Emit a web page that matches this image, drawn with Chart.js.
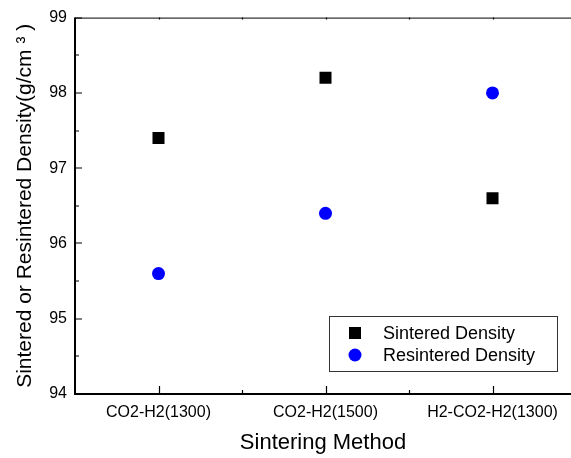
<!DOCTYPE html>
<html>
<head>
<meta charset="utf-8">
<script src="https://cdn.jsdelivr.net/npm/chart.js@4/dist/chart.umd.min.js"></script>
<style>
  html, body { margin: 0; padding: 0; background: #ffffff; overflow: hidden; }
</style>
</head>
<body>
<canvas id="densityChart" width="571" height="458"></canvas>
<script>
var categories = ['CO2-H2(1300)', 'CO2-H2(1500)', 'H2-CO2-H2(1300)'];
var sinteredDensity = [97.4, 98.2, 96.6];
var resinteredDensity = [95.6, 96.4, 98.0];
var yTicks = [94, 95, 96, 97, 98, 99];

var fontName = '"Liberation Sans", Arial, sans-serif';

function toPoints(values) {
    var pts = [];
    for (var i = 0; i < values.length; i++) {
        pts.push({ x: i + 1, y: values[i] });
    }
    return pts;
}

// frame with inward ticks, plus the boxed legend inside the plot
// (the right edge of the original frame falls just outside the picture)
var framePlugin = {
    id: 'frame',
    afterDraw: function(chart) {
        var ctx = chart.ctx;
        var area = chart.chartArea;
        var xs = chart.scales.x;
        var ys = chart.scales.y;
        ctx.save();
        ctx.strokeStyle = '#000000';

        ctx.lineWidth = 1;
        ctx.beginPath();
        ctx.moveTo(area.left, area.top + 0.5);
        ctx.lineTo(area.right, area.top + 0.5);
        ctx.stroke();

        ctx.lineWidth = 2;
        ctx.beginPath();
        ctx.moveTo(area.left, area.top);
        ctx.lineTo(area.left, area.bottom);
        ctx.lineTo(area.right, area.bottom);
        ctx.stroke();

        ctx.lineWidth = 1.2;
        ctx.beginPath();
        for (var v = 94; v <= 99; v += 0.5) {
            var py = Math.round(ys.getPixelForValue(v));
            var len = (v % 1 === 0) ? 7 : 4;
            ctx.moveTo(area.left, py);
            ctx.lineTo(area.left + len, py);
        }
        for (var c = 1; c <= xs.max; c += 0.5) {
            var px = Math.round(xs.getPixelForValue(c)) + 0.5;
            var l2 = (c % 1 === 0) ? 8 : 4;
            ctx.moveTo(px, area.bottom);
            ctx.lineTo(px, area.bottom - l2);
            ctx.moveTo(px, area.top);
            ctx.lineTo(px, area.top + 2);
        }
        ctx.stroke();

        // legend
        var boxR = area.right - 14;
        var boxB = area.bottom - 23;
        var boxL = boxR - 228;
        var boxT = boxB - 55;
        ctx.lineWidth = 1;
        ctx.strokeStyle = '#333333';
        ctx.strokeRect(boxL + 0.5, boxT + 0.5, 228, 55);

        var sets = chart.data.datasets;
        ctx.font = '18px ' + fontName;
        ctx.textBaseline = 'middle';
        ctx.textAlign = 'left';
        for (var i = 0; i < sets.length; i++) {
            var ly = boxT + 17 + i * 22;
            var mx = boxL + 26;
            ctx.fillStyle = sets[i].backgroundColor;
            if (sets[i].pointStyle === 'rect') {
                ctx.fillRect(mx - 6, ly - 6, 12, 12);
            } else {
                ctx.beginPath();
                ctx.arc(mx, ly, 6.5, 0, Math.PI * 2);
                ctx.fill();
            }
            ctx.fillStyle = '#000000';
            ctx.fillText(sets[i].label, boxL + 54, ly + 1);
        }
        ctx.restore();
    }
};

var ctx = document.getElementById('densityChart').getContext('2d');
var densityChart = new Chart(ctx, {
    type: 'scatter',
    data: {
        datasets: [
            {
                label: 'Sintered Density',
                data: toPoints(sinteredDensity),
                pointStyle: 'rect',
                pointRadius: 8.5,
                backgroundColor: '#000000',
                borderColor: '#000000',
                borderWidth: 0
            },
            {
                label: 'Resintered Density',
                data: toPoints(resinteredDensity),
                pointStyle: 'circle',
                pointRadius: 6.5,
                backgroundColor: '#0000ff',
                borderColor: '#0000ff',
                borderWidth: 0
            }
        ]
    },
    options: {
        responsive: false,
        animation: false,
        devicePixelRatio: 1,
        layout: {
            autoPadding: false,
            padding: { top: 16, right: 0, left: 0, bottom: 0 }
        },
        plugins: {
            legend: { display: false },
            tooltip: { enabled: false }
        },
        scales: {
            x: {
                type: 'linear',
                min: 0.5,
                max: 3.47,
                grid: { display: false, drawTicks: false },
                border: { display: false },
                afterFit: function(scale) {
                    scale.height = 64;
                    scale.paddingLeft = 0;
                    scale.paddingRight = 0;
                },
                ticks: {
                    stepSize: 0.5,
                    autoSkip: false,
                    maxRotation: 0,
                    padding: 9,
                    color: '#000000',
                    font: { family: fontName, size: 16 },
                    callback: function(value) {
                        if (value % 1 !== 0) return '';
                        return categories[value - 1] || '';
                    }
                },
                title: {
                    display: true,
                    text: 'Sintering Method',
                    color: '#000000',
                    font: { family: fontName, size: 22 },
                    padding: { top: 0, bottom: 2 }
                }
            },
            y: {
                min: 94,
                max: 99,
                grid: { display: false, drawTicks: false },
                border: { display: false },
                afterFit: function(scale) { scale.width = 75; },
                ticks: {
                    stepSize: 0.5,
                    autoSkip: false,
                    padding: 8,
                    color: '#000000',
                    font: { family: fontName, size: 16 },
                    callback: function(value) {
                        return yTicks.indexOf(value) >= 0 ? String(value) : '';
                    }
                },
                title: {
                    display: true,
                    text: 'Sintered or Resintered Density(g/cm ³ )',
                    color: '#000000',
                    font: { family: fontName, size: 21 },
                    padding: { top: 13, bottom: 0 }
                }
            }
        }
    },
    plugins: [framePlugin]
});
</script>
</body>
</html>
